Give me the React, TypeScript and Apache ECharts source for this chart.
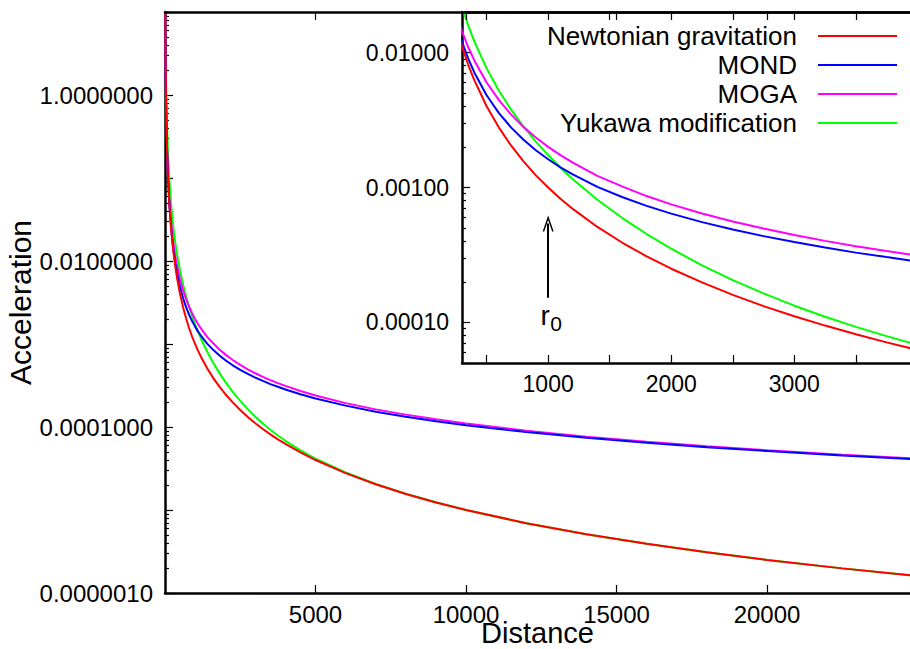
import React, { useEffect, useRef } from 'react';
import * as echarts from 'echarts';

// ---- data ----
const distances = [10, 12, 15, 20, 30, 40, 50, 70, 100, 150, 200, 250, 300, 350, 400, 500, 600, 700, 800, 900, 1000, 1100, 1200, 1400, 1600, 1800, 2000, 2250, 2500, 2750, 3000, 3250, 3500, 3750, 4000, 4500, 5000, 6000, 7000, 8000, 9000, 10000, 12000, 14000, 16000, 18000, 20000, 22500, 25000];

const newtonian = [10, 6.94, 4.44, 2.5, 1.11, 0.625, 0.4, 0.204, 0.1, 0.0444, 0.025, 0.016, 0.0111, 0.00816, 0.00625, 0.004, 0.00278, 0.00204, 0.00156, 0.00123, 0.001, 0.000826, 0.000694, 0.00051, 0.000391, 0.000309, 0.00025, 0.000198, 0.00016, 0.000132, 0.000111, 0.0000947, 0.0000816, 0.0000711, 0.0000625, 0.0000494, 0.00004, 0.0000278, 0.0000204, 0.0000156, 0.0000123, 0.00001, 0.00000694, 0.0000051, 0.00000391, 0.00000309, 0.0000025, 0.00000198, 0.0000016];

const mond = [10, 6.94, 4.44, 2.5, 1.112, 0.626, 0.401, 0.205, 0.101, 0.0454, 0.026, 0.0169, 0.012, 0.00906, 0.00713, 0.00483, 0.00356, 0.00278, 0.00226, 0.00189, 0.00162, 0.00141, 0.00125, 0.00101, 0.00085, 0.000731, 0.00064, 0.000554, 0.000488, 0.000436, 0.000394, 0.000359, 0.000329, 0.000305, 0.000283, 0.000248, 0.000221, 0.000181, 0.000153, 0.000133, 0.000117, 0.000105, 0.0000869, 0.000074, 0.0000645, 0.0000571, 0.0000513, 0.0000454, 0.0000408];

const moga = [10.1, 7.03, 4.51, 2.55, 1.144, 0.65, 0.42, 0.218, 0.11, 0.0511, 0.03, 0.02, 0.0144, 0.011, 0.00875, 0.006, 0.00444, 0.00347, 0.00281, 0.00235, 0.002, 0.00174, 0.00153, 0.00122, 0.00102, 0.000864, 0.00075, 0.000642, 0.00056, 0.000496, 0.000444, 0.000402, 0.000367, 0.000338, 0.000313, 0.000272, 0.00024, 0.000194, 0.000163, 0.000141, 0.000124, 0.00011, 0.0000903, 0.0000765, 0.0000664, 0.0000586, 0.0000525, 0.0000464, 0.0000416];

const yukawa = [20, 13.9, 8.89, 5, 2.22, 1.25, 0.8, 0.408, 0.2, 0.0884, 0.0496, 0.0316, 0.0218, 0.0159, 0.0121, 0.00764, 0.00522, 0.00376, 0.00283, 0.00219, 0.00174, 0.0014, 0.00115, 0.000812, 0.000596, 0.000452, 0.000352, 0.000265, 0.000206, 0.000164, 0.000133, 0.00011, 0.0000927, 0.0000791, 0.0000682, 0.0000524, 0.0000416, 0.0000283, 0.0000206, 0.0000157, 0.0000124, 0.00001, 0.00000694, 0.0000051, 0.00000391, 0.00000309, 0.0000025, 0.00000198, 0.0000016];

const seriesNames = ['Newtonian gravitation', 'MOND', 'MOGA', 'Yukawa modification'];
const seriesColors = ['#ff0000', '#0000ff', '#ff00ff', '#00ff00'];
const seriesValues = [newtonian, mond, moga, yukawa];

// tick values / labels
const mainXTicks = [5000, 10000, 15000, 20000];
const mainYMajor = [1e-6, 1e-5, 1e-4, 1e-3, 1e-2, 1e-1, 1, 10];
const mainYLabels = [1e-6, 1e-4, 1e-2, 1];
const insetXTicks = [500, 1000, 1500, 2000, 2500, 3000, 3500];
const insetXLabels = [1000, 2000, 3000];
const insetYMajor = [1e-4, 1e-3, 1e-2];
const minorFactors = [2, 3, 4, 5, 6, 7, 8, 9];

// arrow annotation (r0 at distance 1000)
const arrowX = 1000;
const arrowFrom = 1.52e-4;
const arrowTo = 5.4e-4;
const r0LabelY = 1.12e-4;

const FONT = "'Liberation Sans', Arial, Helvetica, sans-serif";

function minorTicks(decades: number[]): number[] {
  const out: number[] = [];
  decades.forEach((d) => minorFactors.forEach((k) => out.push(Number((d * k).toPrecision(3)))));
  return out;
}

export default function App() {
  const ref = useRef<HTMLDivElement>(null);
  useEffect(() => {
    if (!ref.current) return;
    const chart = echarts.init(ref.current, undefined, { renderer: 'svg' });

    const axisLine = { show: true, lineStyle: { color: '#000', width: 2.5 } };
    const tickStyle = { color: '#000', width: 1.2 };
    const plain = (v: number) => String(v);

    const mainMinor = minorTicks([1e-6, 1e-5, 1e-4, 1e-3, 1e-2, 1e-1, 1]);
    const insetMinor = minorTicks([1e-5, 1e-4, 1e-3, 1e-2]);

    const makeSeries = (i: number, xi: number, yi: number, z: number, extra: any = {}) => ({
      type: 'line',
      name: seriesNames[i],
      xAxisIndex: xi,
      yAxisIndex: yi,
      data: distances.map((d, k) => [d, seriesValues[i][k]]),
      symbol: 'none',
      smooth: false,
      clip: true,
      silent: true,
      z,
      lineStyle: { color: seriesColors[i], width: 2 },
      itemStyle: { color: seriesColors[i] },
      ...extra,
    });

    const order = [3, 2, 1, 0];
    const series: any[] = [];
    order.forEach((i) => series.push(makeSeries(i, 0, 0, 2)));
    order.forEach((i) => {
      const extra: any = {};
      if (i === 0) {
        extra.markLine = {
          silent: true,
          symbol: ['none', 'path://M0,16 L5.5,0 L11,16 L9.5,16 L5.5,4.5 L1.5,16 Z'],
          symbolSize: [11, 16],
          lineStyle: { color: '#000', width: 2, type: 'solid' },
          label: { show: false },
          data: [[{ coord: [arrowX, arrowFrom] }, { coord: [arrowX, arrowTo] }]],
        };
        extra.markPoint = {
          silent: true,
          symbol: 'circle',
          symbolSize: 0,
          label: { show: true, position: 'inside', color: '#000', fontFamily: FONT, fontSize: 28 },
          data: [
            { coord: [arrowX, r0LabelY], label: { formatter: 'r', offset: [-3, 0] } },
            { coord: [arrowX, r0LabelY], label: { formatter: '0', fontSize: 21, offset: [8, 8] } },
          ],
        };
      }
      series.push(makeSeries(i, 2, 2, 3, extra));
    });

    const option: any = {
      animation: false,
      backgroundColor: '#fff',
      grid: [
        { left: 165, top: 12, right: 0, bottom: 56, containLabel: false, outerBoundsMode: 'none' },
        { left: 462, top: 12, right: 0, bottom: 286, containLabel: false, outerBoundsMode: 'none' },
      ],
      legend: {
        data: seriesNames,
        orient: 'vertical',
        align: 'right',
        right: 13,
        top: 23,
        padding: 0,
        icon: 'rect',
        itemWidth: 79,
        itemHeight: 2,
        itemGap: 3,
        selectedMode: false,
        textStyle: { fontSize: 26, color: '#000', fontFamily: FONT, padding: [0, 16, 0, 0] },
        z: 20,
      },
      xAxis: [
        {
          gridIndex: 0, type: 'value', position: 'bottom', min: 0, max: 24750,
          axisLine,
          axisTick: { show: true, inside: true, length: 8, customValues: mainXTicks, lineStyle: tickStyle },
          axisLabel: {
            customValues: mainXTicks, fontSize: 24, lineHeight: 20, color: '#000', fontFamily: FONT,
            margin: 11, formatter: plain,
          },
          splitLine: { show: false },
          name: 'Distance', nameLocation: 'middle', nameGap: 30, nameMoveOverlap: false,
          nameTextStyle: { fontSize: 29, lineHeight: 20, color: '#000', fontFamily: FONT },
        },
        {
          gridIndex: 0, type: 'value', position: 'top', min: 0, max: 24750, z: 10,
          axisLine,
          axisTick: { show: true, inside: true, length: 8, customValues: mainXTicks, lineStyle: tickStyle },
          axisLabel: { show: false },
          splitLine: { show: false },
        },
        {
          gridIndex: 1, type: 'value', position: 'bottom', min: 300, max: 3940,
          axisLine,
          axisTick: { show: true, inside: true, length: 8, customValues: insetXTicks, lineStyle: tickStyle },
          axisLabel: { customValues: insetXLabels, fontSize: 23, color: '#000', fontFamily: FONT, margin: 9, formatter: plain },
          splitLine: { show: false },
        },
        {
          gridIndex: 1, type: 'value', position: 'top', min: 300, max: 3940,
          axisLine,
          axisTick: { show: true, inside: true, length: 8, customValues: insetXTicks, lineStyle: tickStyle },
          axisLabel: { show: false },
          splitLine: { show: false },
        },
      ],
      yAxis: [
        {
          gridIndex: 0, type: 'log', logBase: 10, min: 1e-6, max: 10, position: 'left',
          axisLine,
          axisTick: { show: true, inside: true, length: 8, customValues: mainYMajor, lineStyle: tickStyle },
          axisLabel: {
            customValues: mainYLabels, fontSize: 24, color: '#000', fontFamily: FONT, margin: 12,
            formatter: (v: number) => Number(v).toFixed(7),
          },
          splitLine: { show: false },
          name: 'Acceleration', nameLocation: 'middle', nameGap: 130, nameMoveOverlap: false,
          nameTextStyle: { fontSize: 30, color: '#000', fontFamily: FONT },
        },
        {
          gridIndex: 0, type: 'log', logBase: 10, min: 1e-6, max: 10, position: 'left',
          axisLine: { show: false },
          axisTick: { show: true, inside: true, length: 4, customValues: mainMinor, lineStyle: tickStyle },
          axisLabel: { show: false },
          splitLine: { show: false },
        },
        {
          gridIndex: 1, type: 'log', logBase: 10, min: 5e-5, max: 0.02, position: 'left',
          axisLine,
          axisTick: { show: true, inside: true, length: 8, customValues: insetYMajor, lineStyle: tickStyle },
          axisLabel: {
            customValues: insetYMajor, fontSize: 23, color: '#000', fontFamily: FONT, margin: 13,
            formatter: (v: number) => Number(v).toFixed(5),
          },
          splitLine: { show: false },
        },
        {
          gridIndex: 1, type: 'log', logBase: 10, min: 5e-5, max: 0.02, position: 'left',
          axisLine: { show: false },
          axisTick: { show: true, inside: true, length: 4, customValues: insetMinor, lineStyle: tickStyle },
          axisLabel: { show: false },
          splitLine: { show: false },
        },
      ],
      series,
    };

    chart.setOption(option);
    return () => chart.dispose();
  }, []);

  return (
    <div
      ref={ref}
      style={{ position: 'absolute', left: 0, top: 0, width: 910, height: 649, background: '#fff' }}
    />
  );
}
